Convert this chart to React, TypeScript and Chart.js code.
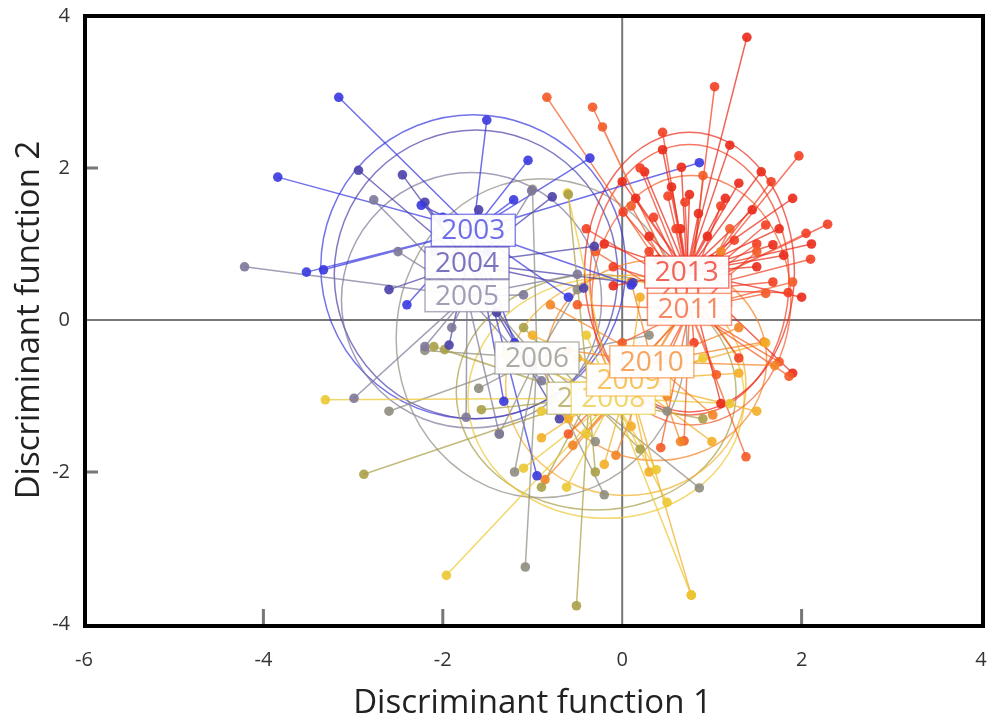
import React, { useEffect, useRef } from "react";
import { Chart, registerables } from "chart.js";

Chart.register(...registerables);

const years = ["2003", "2004", "2005", "2006", "2007", "2008", "2009", "2010", "2011", "2012", "2013"];

const xTicks = [-6, -4, -2, 0, 2, 4];
const yTicks = [-4, -2, 0, 2, 4];

// group centroids (discriminant scores)
const centroidX = [-1.66, -1.73, -1.73, -0.95, -0.37, -0.1, 0.07, 0.33, 0.75, 0.75, 0.72];
const centroidY = [1.18, 0.75, 0.32, -0.5, -1.03, -1.03, -0.79, -0.55, 0.14, 0.39, 0.63];

// confidence ellipses
const ellipseCx = [-1.66, -1.63, -1.68, -0.9, -0.29, -0.18, 0.04, 0.38, 0.77, 0.75, 0.75];
const ellipseCy = [0.7, 0.6, 0.26, -0.24, -0.95, -1.03, -0.86, -0.53, 0.26, 0.53, 0.63];
const ellipseRx = [1.7, 1.58, 1.45, 1.62, 1.56, 1.54, 1.34, 1.23, 1.11, 1.11, 1.17];
const ellipseRy = [2.0, 1.9, 1.68, 2.1, 1.55, 1.58, 1.45, 1.32, 1.64, 1.78, 1.84];

const pts2003: [number, number][] = [
  [-3.16, 2.93], [-3.84, 1.88], [-3.52, 0.63], [-3.33, 0.66], [-1.51, 2.63], [-1.05, 2.1], [-0.36, 2.13],
  [-2.24, 1.51], [-1.21, 1.58], [0.86, 2.07], [-1.32, -1.07], [0.1, 0.46], [-2.0, 1.35], [-0.95, -2.05],
  [-1.2, -0.3], [-2.4, 0.2], [-0.6, 0.3], [-1.5, 0.9],
];
const pts2004: [number, number][] = [
  [-2.94, 1.97], [-2.45, 1.91], [-0.78, 1.62], [-0.31, 0.97], [-0.43, 0.42], [0.12, 0.49], [-1.93, -0.33],
  [-2.2, 1.55], [-1.6, 1.45], [-1.0, -0.6], [-2.6, 0.4], [-1.4, 0.1], [-0.7, -1.3], [-2.1, 0.9],
];
const pts2005: [number, number][] = [
  [-4.21, 0.7], [-2.77, 1.58], [-1.01, 1.7], [-1.1, 0.33], [-2.99, -1.03], [-1.74, -1.28], [-1.37, -1.5],
  [-2.2, -0.35], [-0.5, 0.6], [-1.4, 1.2], [-2.5, 0.9], [-0.9, -0.8], [-1.9, -0.1],
];
const pts2006: [number, number][] = [
  [-1.08, -3.25], [0.86, -2.21], [-1.0, 1.72], [-1.37, -1.5], [-2.2, -0.4], [-0.3, -1.6], [0.3, -0.2],
  [-1.6, -0.9], [-0.5, 0.4], [-1.9, 0.8], [-0.2, -2.3], [-1.2, -2.0], [0.5, -1.2], [-2.6, -1.2],
];
const pts2007: [number, number][] = [
  [-2.88, -2.03], [-0.51, -3.76], [-1.98, -0.39], [-1.57, -1.18], [-0.9, -2.2], [0.4, -0.6], [-1.1, -0.1],
  [0.2, -1.7], [-0.6, 1.65], [-2.1, -0.35], [0.9, -1.3], [-0.3, -2.0],
];
const pts2008: [number, number][] = [
  [-3.31, -1.05], [-1.96, -3.36], [-0.61, 1.67], [0.77, -3.62], [-0.62, -2.2], [0.38, -1.97], [-1.1, -1.95],
  [0.9, -0.5], [-1.3, -0.45], [0.5, -2.4], [-0.4, -0.2], [1.2, -1.1], [-0.9, -1.2], [-0.4, -1.5],
];
const pts2009: [number, number][] = [
  [0.77, -3.62], [-0.9, -1.55], [0.3, -2.0], [1.3, -0.7], [1.6, -0.3], [-0.5, -0.5], [0.6, 0.0],
  [-0.2, -1.9], [1.0, -1.6], [-1.0, -0.2], [0.2, 0.3], [1.5, -1.2], [-0.6, -1.3], [0.1, -1.4],
];
const pts2010: [number, number][] = [
  [-0.86, -2.1], [-0.07, -1.78], [1.01, -1.25], [1.58, -0.29], [0.65, -1.6], [-0.6, -0.4], [0.8, 0.4],
  [1.3, -0.1], [-0.3, -1.2], [0.1, 0.5], [1.7, -0.6], [-0.8, 0.2], [0.5, -1.0], [1.1, 0.9], [-0.55, -1.65],
  [-0.2, -0.8],
];
const pts2011: [number, number][] = [
  [1.38, -1.8], [1.86, -0.74], [0.69, -1.59], [0.43, -1.68], [1.05, -0.72], [-0.84, 2.93], [-0.33, 2.8],
  [-0.22, 2.54], [1.6, 0.35], [0.1, 1.5], [1.75, -0.55], [0.4, -0.8], [1.2, 1.2], [-0.3, 0.9], [0.0, -0.3],
  [1.5, 0.9], [0.9, 1.9], [-0.5, 0.2], [1.9, 0.5], [0.6, 0.7], [-0.6, -1.5], [0.2, -1.1],
];
const pts2012: [number, number][] = [
  [1.03, 3.07], [0.45, 2.47], [1.97, 2.16], [1.66, 1.82], [2.29, 1.26], [2.05, 1.14], [0.01, 1.42],
  [0.51, 1.63], [1.68, 0.5], [-0.4, 1.2], [1.3, -0.5], [0.3, 0.9], [1.85, 0.36], [-0.1, 0.7], [1.1, 1.5],
  [0.8, -0.3], [1.5, 1.0], [0.2, 2.0], [2.1, 0.8], [0.6, 1.2], [0.7, 1.55], [1.25, 1.05], [0.35, 1.35],
  [1.6, 1.25],
];
const pts2013: [number, number][] = [
  [1.39, 3.72], [0.66, 2.01], [0.45, 2.24], [2.11, 1.0], [1.68, 0.99], [0.0, 1.82], [1.2, 2.3], [0.55, 1.75],
  [0.85, 1.4], [1.9, 1.6], [1.75, 1.2], [0.3, 1.1], [-0.2, 1.0], [1.0, 0.8], [0.65, 1.2], [1.5, 0.7],
  [-0.1, 0.45], [1.9, -0.7], [0.9, 0.2], [1.3, 1.8], [0.4, 0.8], [1.1, -1.1], [2.0, 0.3], [0.15, 1.6],
  [1.45, 1.45], [0.75, 1.65], [0.95, 1.1], [1.55, 1.95], [0.25, 1.95], [1.15, 1.6], [1.8, 0.85],
];

const groupPoints = [pts2003, pts2004, pts2005, pts2006, pts2007, pts2008, pts2009, pts2010, pts2011, pts2012, pts2013];

const groupColors = [
  "#3838e0", "#4a40a8", "#7d7898", "#8f8c80", "#aaa048", "#ecc832",
  "#f3ae26", "#f38424", "#f45a26", "#f23e22", "#ea2a1a",
];

const labelOrder = [0, 1, 2, 3, 4, 5, 6, 7, 9, 8, 10];

const FONT = "'Open Sans', 'Liberation Sans', sans-serif";

function rgba(hex: string, a: number) {
  const n = parseInt(hex.slice(1), 16);
  return `rgba(${(n >> 16) & 255},${(n >> 8) & 255},${n & 255},${a})`;
}

const discriminantPlugin = {
  id: "discriminant",
  beforeDatasetsDraw(chart: any) {
    const { ctx, chartArea, scales } = chart;
    const xs = scales.x;
    const ys = scales.y;
    ctx.save();
    ctx.beginPath();
    ctx.rect(chartArea.left, chartArea.top, chartArea.right - chartArea.left, chartArea.bottom - chartArea.top);
    ctx.clip();
    const x0 = xs.getPixelForValue(0);
    const y0 = ys.getPixelForValue(0);
    ctx.strokeStyle = "#777";
    ctx.lineWidth = 2;
    ctx.beginPath();
    ctx.moveTo(x0, chartArea.top);
    ctx.lineTo(x0, chartArea.bottom);
    ctx.moveTo(chartArea.left, y0);
    ctx.lineTo(chartArea.right, y0);
    ctx.stroke();

    const sx = Math.abs(xs.getPixelForValue(1) - xs.getPixelForValue(0));
    const sy = Math.abs(ys.getPixelForValue(1) - ys.getPixelForValue(0));
    for (let i = 0; i < years.length; i++) {
      ctx.strokeStyle = rgba(groupColors[i], 0.7);
      ctx.lineWidth = 1.5;
      ctx.beginPath();
      ctx.ellipse(
        xs.getPixelForValue(ellipseCx[i]),
        ys.getPixelForValue(ellipseCy[i]),
        ellipseRx[i] * sx,
        ellipseRy[i] * sy,
        0,
        0,
        Math.PI * 2
      );
      ctx.stroke();
    }
    for (let i = 0; i < years.length; i++) {
      const cx = xs.getPixelForValue(centroidX[i]);
      const cy = ys.getPixelForValue(centroidY[i]);
      ctx.strokeStyle = rgba(groupColors[i], 0.72);
      ctx.lineWidth = 1.5;
      ctx.beginPath();
      for (const p of groupPoints[i]) {
        ctx.moveTo(cx, cy);
        ctx.lineTo(xs.getPixelForValue(p[0]), ys.getPixelForValue(p[1]));
      }
      ctx.stroke();
    }
    ctx.restore();
  },
  afterDatasetsDraw(chart: any) {
    const { ctx, scales } = chart;
    const xs = scales.x;
    const ys = scales.y;
    ctx.save();
    ctx.font = `28px ${FONT}`;
    ctx.textAlign = "center";
    ctx.textBaseline = "middle";
    const w = 84;
    const h = 32;
    for (const i of labelOrder) {
      const cx = xs.getPixelForValue(centroidX[i]);
      const cy = ys.getPixelForValue(centroidY[i]);
      ctx.fillStyle = "rgba(255,255,255,0.95)";
      ctx.fillRect(cx - w / 2, cy - h / 2, w, h);
      ctx.strokeStyle = rgba(groupColors[i], 0.6);
      ctx.lineWidth = 1.5;
      ctx.strokeRect(cx - w / 2, cy - h / 2, w, h);
      ctx.fillStyle = rgba(groupColors[i], 0.72);
      ctx.fillText(years[i], cx, cy + 1);
    }
    ctx.restore();
  },
  afterDraw(chart: any) {
    const { ctx, chartArea, scales } = chart;
    const xs = scales.x;
    const ys = scales.y;
    ctx.save();
    ctx.strokeStyle = "#777";
    ctx.lineWidth = 3;
    ctx.beginPath();
    for (const v of xTicks) {
      if (v === 0 || v === xTicks[0] || v === xTicks[xTicks.length - 1]) continue;
      const px = xs.getPixelForValue(v);
      ctx.moveTo(px, chartArea.bottom);
      ctx.lineTo(px, chartArea.bottom - 15);
    }
    for (const v of yTicks) {
      if (v === 0 || v === yTicks[0] || v === yTicks[yTicks.length - 1]) continue;
      const py = ys.getPixelForValue(v);
      ctx.moveTo(chartArea.left, py);
      ctx.lineTo(chartArea.left + 14, py);
    }
    ctx.stroke();
    ctx.strokeStyle = "#000";
    ctx.lineWidth = 4;
    ctx.strokeRect(chartArea.left + 1, chartArea.top, chartArea.right - chartArea.left + 1, chartArea.bottom - chartArea.top + 2);
    ctx.restore();
  },
};

export default function App() {
  const ref = useRef<HTMLCanvasElement | null>(null);
  useEffect(() => {
    document.body.style.margin = "0";
    if (!ref.current) return;
    const datasets = groupPoints.map((pts, i) => ({
      label: years[i],
      data: pts.map((p) => ({ x: p[0], y: p[1] })),
      backgroundColor: rgba(groupColors[i], 0.9),
      borderWidth: 0,
      pointRadius: 4.8,
      pointHoverRadius: 4.8,
    }));
    const chart = new Chart(ref.current, {
      type: "scatter",
      data: { datasets },
      options: {
        responsive: false,
        animation: false,
        events: [],
        layout: { padding: { top: 16, right: 12, left: 0, bottom: 0 } },
        plugins: { legend: { display: false }, tooltip: { enabled: false } },
        scales: {
          x: {
            type: "linear",
            min: -6,
            max: 4,
            afterBuildTicks: (s: any) => {
              s.ticks = xTicks.map((v) => ({ value: v }));
            },
            afterFit: (s: any) => {
              s.height = 100;
              s.paddingLeft = 0;
              s.paddingRight = 0;
            },
            ticks: { autoSkip: false, maxRotation: 0, padding: 16, color: "#333", font: { family: FONT, size: 20 } },
            grid: { display: false },
            border: { display: false },
            title: {
              display: true,
              text: "Discriminant function 1",
              color: "#222",
              font: { family: FONT, size: 33 },
              padding: { top: 0, bottom: 1 },
            },
          },
          y: {
            type: "linear",
            min: -4,
            max: 4,
            afterBuildTicks: (s: any) => {
              s.ticks = yTicks.map((v) => ({ value: v }));
            },
            afterFit: (s: any) => {
              s.width = 84;
              s.paddingTop = 0;
              s.paddingBottom = 0;
            },
            ticks: { autoSkip: false, padding: 6, color: "#333", font: { family: FONT, size: 20 } },
            grid: { display: false },
            border: { display: false },
            title: {
              display: true,
              text: "Discriminant function 2",
              color: "#222",
              font: { family: FONT, size: 33 },
              padding: { top: 10, bottom: 0 },
            },
          },
        },
      },
      plugins: [discriminantPlugin],
    } as any);
    return () => chart.destroy();
  }, []);
  return <canvas ref={ref} width={993} height={724} style={{ display: "block" }} />;
}
